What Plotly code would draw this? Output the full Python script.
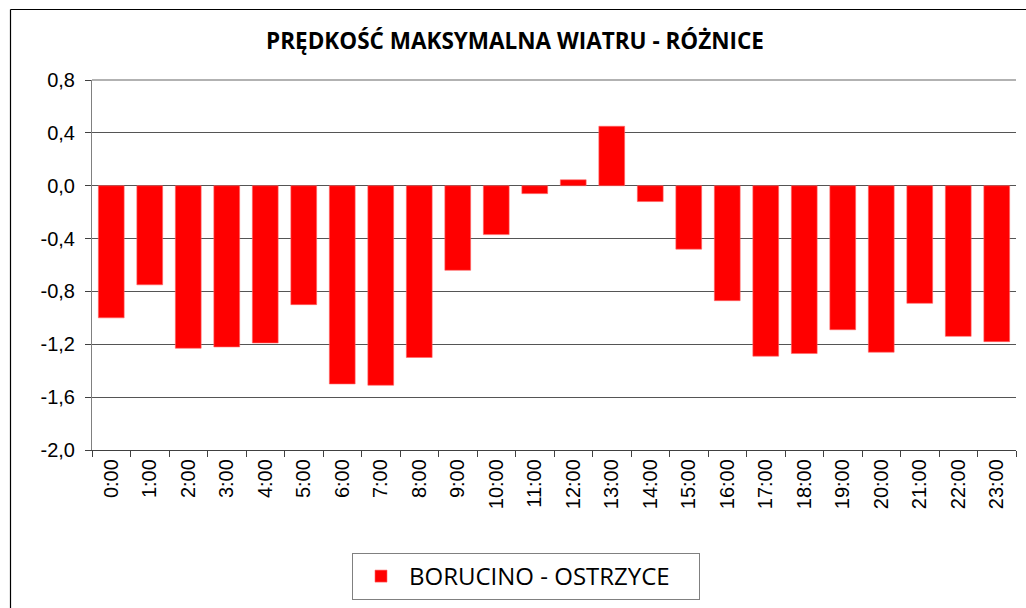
import plotly.graph_objects as go

hours = [f"{h}:00" for h in range(24)]
values = [-1.00, -0.75, -1.23, -1.22, -1.19, -0.90, -1.50, -1.51, -1.30, -0.64,
          -0.37, -0.06, 0.045, 0.45, -0.12, -0.48, -0.87, -1.29, -1.27, -1.09,
          -1.26, -0.89, -1.14, -1.18]
series_name = "BORUCINO - OSTRZYCE"
title_text = "PRĘDKOŚĆ MAKSYMALNA WIATRU - RÓŻNICE"
y_ticks = [0.8, 0.4, 0.0, -0.4, -0.8, -1.2, -1.6, -2.0]
y_tick_labels = ["0,8", "0,4", "0,0", "-0,4", "-0,8", "-1,2", "-1,6", "-2,0"]

W, H = 1026, 608
ML, MR, MT, MB = 92, 10, 80, 158
PW, PH = W - ML - MR, H - MT - MB

def px_x(x):
    return (x - ML) / PW

def px_y(y):
    return (H - MB - y) / PH

fig = go.Figure()
fig.add_trace(go.Bar(
    x=hours, y=values, name=series_name,
    marker=dict(color="#FF0000", line=dict(color="#FF6666", width=0.6)),
    showlegend=True,
))

fig.update_layout(
    width=W, height=H, autosize=False,
    margin=dict(l=ML, r=MR, t=MT, b=MB, pad=0, autoexpand=False),
    paper_bgcolor="white", plot_bgcolor="white",
    bargap=0.33,
    title=dict(text=title_text, x=515 / W, xref="container", xanchor="center",
               y=1 - 41 / H, yref="container", yanchor="middle",
               font=dict(family="Open Sans", size=22.5, color="black", weight="bold")),
    showlegend=True,
    legend=dict(xref="paper", yref="paper", x=px_x(352), y=px_y(553),
                xanchor="left", yanchor="top", orientation="h",
                itemwidth=46, entrywidth=285, entrywidthmode="pixels",
                bordercolor="#808080", borderwidth=1, bgcolor="white",
                font=dict(family="Open Sans", size=24, color="black")),
    xaxis=dict(type="category", tickmode="array", tickvals=hours,
               tickson="boundaries", ticks="outside", ticklen=6, automargin=False,
               tickcolor="#404040", tickangle=-90, showline=True, linecolor="#404040",
               linewidth=1.3, showgrid=False,
               tickfont=dict(family="Liberation Sans", size=20, color="black")),
    yaxis=dict(range=[-2.0, 0.8], tickvals=y_ticks, ticktext=y_tick_labels,
               ticks="outside", ticklen=6, tickcolor="#404040", showline=True,
               linecolor="#808080", linewidth=1, showgrid=True, gridcolor="#555555",
               gridwidth=1, zeroline=False, ticklabelstandoff=6, automargin=False,
               tickfont=dict(family="Liberation Sans", size=20, color="black")),
    shapes=[
        dict(type="line", xref="paper", yref="paper", x0=px_x(10.5), x1=px_x(W + 5),
             y0=px_y(9.5), y1=px_y(9.5), line=dict(color="black", width=1.2)),
        dict(type="line", xref="paper", yref="paper", x0=px_x(10.5), x1=px_x(10.5),
             y0=px_y(9.5), y1=px_y(H + 5), line=dict(color="black", width=1.2)),
        dict(type="line", xref="paper", yref="paper", x0=0, x1=1,
             y0=1, y1=1, line=dict(color="#666666", width=1.2)),
    ],
)

fig.write_html("out.html", config={"displayModeBar": False},
               post_script="document.body.style.margin='0';")
